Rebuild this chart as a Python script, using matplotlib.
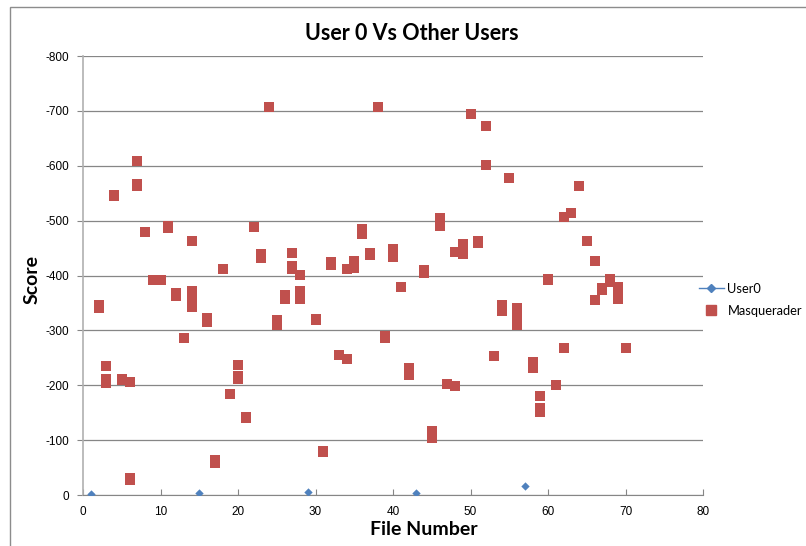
import matplotlib
matplotlib.use("Agg")
import matplotlib.pyplot as plt
from matplotlib.lines import Line2D
from matplotlib.patches import Rectangle

plt.rcParams['axes.unicode_minus'] = False

# User0 scores (one file every 14)
user_x = [1, 15, 29, 43, 57]
user_y = [-2, -4, -6, -3, -16]

# Masquerader scores
masq_x = [2, 2, 3, 3, 3, 4, 4, 5, 5, 6, 6, 6, 7, 7, 7, 8, 9, 10, 11, 11,
          12, 12, 13, 14, 14, 14, 14, 16, 16, 17, 17, 18, 19, 20, 20, 20, 21, 21, 22, 23,
          23, 24, 25, 25, 26, 26, 27, 27, 27, 28, 28, 28, 30, 30, 31, 31, 32, 32, 33, 34,
          34, 35, 35, 36, 36, 37, 37, 38, 39, 39, 40, 40, 41, 42, 42, 44, 44, 45, 45, 46,
          46, 47, 48, 48, 49, 49, 50, 51, 51, 52, 52, 53, 54, 54, 55, 56, 56, 56, 58, 58,
          59, 59, 59, 60, 60, 61, 62, 62, 63, 64, 65, 66, 66, 67, 67, 68, 68, 69, 69, 69,
          70]
masq_y = [-347, -341, -235, -211, -205, -546, -544, -212, -210, -206, -31, -28, -609, -567, -564, -480, -392, -392, -490, -486,
          -368, -362, -287, -463, -372, -356, -343, -323, -316, -63, -58, -411, -184, -236, -217, -212, -142, -140, -488, -440,
          -431, -707, -318, -310, -365, -358, -441, -417, -411, -401, -372, -358, -321, -318, -80, -78, -424, -420, -256, -411,
          -248, -426, -413, -485, -476, -441, -437, -707, -290, -287, -448, -434, -379, -232, -219, -410, -405, -117, -103, -504,
          -490, -203, -443, -199, -458, -440, -695, -463, -459, -673, -602, -253, -346, -336, -577, -340, -325, -310, -242, -231,
          -180, -158, -152, -394, -391, -200, -507, -267, -513, -564, -463, -427, -356, -378, -373, -394, -388, -379, -366, -358,
          -267]

blue = '#4F81BD'
red = '#C0504D'
grey = '#868686'

fig = plt.figure(figsize=(8.06, 5.46), dpi=100)
# chart area border like the Excel frame
fig.patches.append(Rectangle((10 / 806, -0.1), 1.0, 1.1 - 7 / 546, transform=fig.transFigure,
                             fill=False, edgecolor='#8c8c8c', linewidth=1.0))

ax = fig.add_axes([83 / 806, 51 / 546, 620 / 806, 439 / 546])

ax.scatter(masq_x, masq_y, marker='s', s=46, color=red, zorder=3, linewidths=0)
ax.scatter(user_x, user_y, marker='D', s=18, color=blue, zorder=4, linewidths=0)

ax.set_xlim(0, 80)
ax.set_ylim(0, -800)
ax.set_xticks(range(0, 81, 10))
ax.set_yticks(range(0, -801, -100))

ax.grid(axis='y', color=grey, linewidth=0.9)
ax.set_axisbelow(True)
for side in ['top', 'right']:
    ax.spines[side].set_visible(False)
ax.spines['left'].set_color('#b0b0b0')
ax.spines['left'].set_linewidth(1.2)
ax.spines['bottom'].set_color(grey)
ax.tick_params(axis='x', direction='in', length=4, color=grey, labelsize=8.5, pad=8)
ax.tick_params(axis='y', direction='out', length=4, color=grey, labelsize=8.5, pad=6)
for lab in ax.get_xticklabels() + ax.get_yticklabels():
    lab.set_fontfamily('Liberation Sans')

fig.text(412 / 806, 1 - 33 / 546, 'User 0 Vs Other Users', fontsize=15.5, fontweight='bold',
         family='Lato', ha='center', va='center')
ax.set_xlabel('File Number', fontsize=14, fontweight='bold', family='Lato')
ax.xaxis.set_label_coords((424 - 83) / 620, -26 / 439)
ax.set_ylabel('Score', fontsize=14, fontweight='bold', family='Lato')
ax.yaxis.set_label_coords((41 - 83) / 620, 0.49)

handles = [Line2D([], [], color=blue, marker='D', markersize=4, linewidth=1),
           Line2D([], [], color=red, marker='s', markersize=6.5, linewidth=0)]
fig.legend(handles, ['User0', 'Masquerader'], loc='upper left',
           bbox_to_anchor=(699 / 806, 1 - 283 / 546), frameon=False,
           prop={'family': 'Lato', 'size': 9.3}, handlelength=1.9, handletextpad=0.3,
           labelspacing=0.75, borderpad=0, borderaxespad=0)

fig.savefig('out.png', dpi=100)
